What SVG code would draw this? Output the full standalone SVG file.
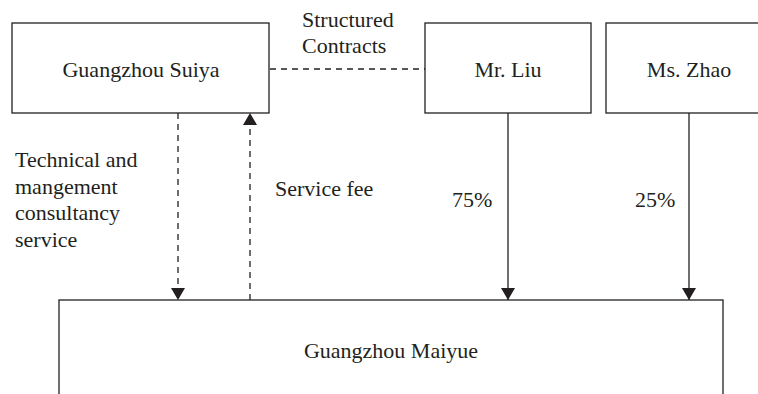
<svg xmlns="http://www.w3.org/2000/svg" width="758" height="394" viewBox="0 0 758 394">
<defs>
<style>
.box{fill:#fff;stroke:#231f20;stroke-width:1.3}
.t{font-family:'Liberation Serif','Times New Roman','DejaVu Serif',serif;font-size:22px;fill:#231f20}
.c{text-anchor:middle}
.ln{stroke:#231f20;stroke-width:1.3;fill:none}
.d{stroke-dasharray:6 5}
</style>
<marker id="ah" viewBox="0 0 12 14" refX="12" refY="7" markerWidth="12" markerHeight="14" markerUnits="userSpaceOnUse" orient="auto">
<path d="M0,0 L12,7 L0,14 Z" fill="#231f20"/>
</marker>
</defs>
<rect width="758" height="394" fill="#fff"/>
<g id="connectors">
<line class="ln d" x1="270" y1="69" x2="425" y2="69"/>
<line class="ln d" x1="178" y1="113" x2="178" y2="300" marker-end="url(#ah)"/>
<line class="ln d" x1="250" y1="300" x2="250" y2="113" marker-end="url(#ah)"/>
<line class="ln" x1="508" y1="113" x2="508" y2="300" marker-end="url(#ah)"/>
<line class="ln" x1="689" y1="113" x2="689" y2="300" marker-end="url(#ah)"/>
<text class="t" font-family="Liberation Serif, serif" x="302" y="27">Structured</text>
<text class="t" font-family="Liberation Serif, serif" x="302" y="53">Contracts</text>
<text class="t" font-family="Liberation Serif, serif" x="15" y="167">Technical and</text>
<text class="t" font-family="Liberation Serif, serif" x="15" y="194">mangement</text>
<text class="t" font-family="Liberation Serif, serif" x="15" y="220">consultancy</text>
<text class="t" font-family="Liberation Serif, serif" x="15" y="247">service</text>
<text class="t" font-family="Liberation Serif, serif" x="275" y="196">Service fee</text>
<text class="t" font-family="Liberation Serif, serif" x="452" y="207">75%</text>
<text class="t" font-family="Liberation Serif, serif" x="635" y="207">25%</text>
</g>
<g id="suiya">
<rect class="box" x="12" y="23" width="257" height="90"/>
<text class="t c" font-family="Liberation Serif, serif" x="141" y="77">Guangzhou Suiya</text>
</g>
<g id="liu">
<rect class="box" x="425" y="23" width="166" height="90"/>
<text class="t c" font-family="Liberation Serif, serif" x="508" y="77">Mr. Liu</text>
</g>
<g id="zhao">
<rect class="box" x="606" y="23" width="166" height="90"/>
<text class="t c" font-family="Liberation Serif, serif" x="689" y="77">Ms. Zhao</text>
</g>
<g id="maiyue">
<rect class="box" x="59" y="300" width="664" height="110"/>
<text class="t c" font-family="Liberation Serif, serif" x="391" y="358">Guangzhou Maiyue</text>
</g>
</svg>
